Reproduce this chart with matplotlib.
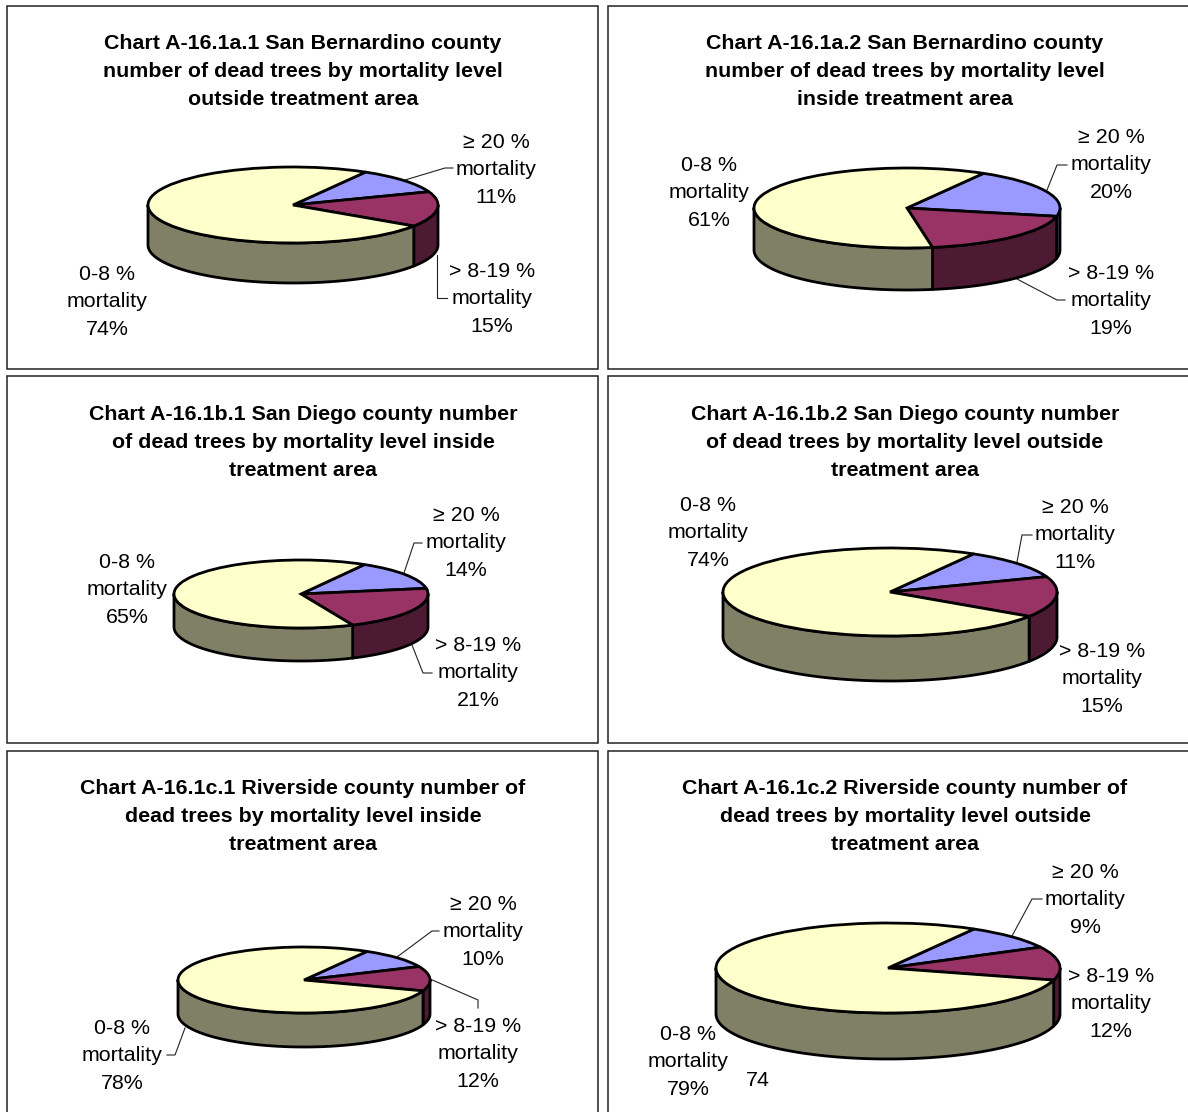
import numpy as np
import matplotlib
matplotlib.use("Agg")
import matplotlib.pyplot as plt
from matplotlib.patches import Polygon, Rectangle

W, H = 1188, 1112
plt.rcParams['font.family'] = ['Liberation Sans', 'DejaVu Sans']

titles = [
    "Chart A-16.1a.1 San Bernardino county\nnumber of dead trees by mortality level\noutside treatment area",
    "Chart A-16.1a.2 San Bernardino county\nnumber of dead trees by mortality level\ninside treatment area",
    "Chart A-16.1b.1 San Diego county number\nof dead trees by mortality level inside\ntreatment area",
    "Chart A-16.1b.2 San Diego county number\nof dead trees by mortality level outside\ntreatment area",
    "Chart A-16.1c.1 Riverside county number of\ndead trees by mortality level inside\ntreatment area",
    "Chart A-16.1c.2 Riverside county number of\ndead trees by mortality level outside\ntreatment area",
]
categories = ["≥ 20 %", "> 8-19 %", "0-8 %"]
high = [11, 20, 14, 11, 10, 9]
mid = [15, 19, 21, 15, 12, 12]
low = [74, 61, 65, 74, 78, 79]

top_colors = ['#9999FF', '#993366', '#FFFFCC']
side_colors = ['#4D4D80', '#4D1A33', '#808066']

# x, y, w, h of the boxes, px
boxes = [(7, 6, 591, 363), (608, 6, 600, 363),
         (7, 376, 591, 367), (608, 376, 600, 367),
         (7, 751, 591, 400), (608, 751, 600, 400)]
title_pos = [(303, 42), (905, 42), (303, 413), (905, 413), (303, 787), (905, 787)]
# cx, cy, rx, ry, depth
pies = [(293, 205, 145, 38, 40), (907, 208, 153, 40, 42),
        (301, 594, 127, 34, 33), (890, 592, 167, 44, 45),
        (304, 980, 126, 33, 34), (888, 968, 172, 45, 46)]
label_pos = [
    [(496, 169), (492, 298), (107, 301)],
    [(1111, 164), (1111, 300), (709, 192)],
    [(466, 542), (478, 672), (127, 589)],
    [(1075, 534), (1102, 678), (708, 532)],
    [(483, 931), (478, 1053), (122, 1055)],
    [(1085, 899), (1111, 1003), (688, 1061)],
]
leaders = [
    [[(405, 180), (445, 168), (453, 168)], [(437, 255), (437, 298), (447, 298)]],
    [[(1047, 190), (1057, 165), (1067, 165)], [(1017, 279), (1057, 300), (1065, 300)]],
    [[(404, 573), (414, 543), (422, 543)], [(412, 645), (423, 673), (432, 673)]],
    [[(1017, 562), (1022, 535), (1032, 535)]],
    [[(397, 957), (432, 931), (439, 931)], [(430, 979), (478, 1000), (478, 1008)],
     [(185, 1028), (175, 1055), (167, 1055)]],
    [[(1012, 936), (1032, 899), (1042, 899)]],
]


def draw_lines(ax, x, y, text, step, **kw):
    rows = text.split("\n")
    for i, row in enumerate(rows):
        ax.text(x, y + i * step, row, ha='center', va='center', **kw)


def draw_pie(fig, values, geom):
    cx, cy, rx, ry, depth = geom
    d = depth / ry
    ax = fig.add_axes([(cx - rx) / W, 1 - (cy + ry + depth) / H,
                       2 * rx / W, (2 * ry + depth) / H])
    # side wall first, only the part of each slice facing the viewer
    start = 60.0
    for v, c in zip(values, side_colors):
        end = start - v * 3.6
        a1, a2 = max(end, -180), min(start, 0)
        if a2 > a1:
            t = np.radians(np.linspace(a1, a2, 80))
            xs = np.cos(t)
            ys = np.sin(t)
            pts = np.r_[np.c_[xs, ys], np.c_[xs[::-1], ys[::-1] - d]]
            ax.add_patch(Polygon(pts, closed=True, fc=c, ec='black', lw=2.0,
                                 joinstyle='round', clip_on=False))
        start = end
    wedges, _ = ax.pie(values, colors=top_colors, startangle=60, counterclock=False,
                       radius=1, wedgeprops=dict(edgecolor='black', linewidth=2.0))
    for w in wedges:
        w.set_clip_on(False)
        w.set_zorder(3)
    ax.set_aspect('auto')
    ax.set_xlim(-1, 1)
    ax.set_ylim(-1 - d, 1)
    ax.axis('off')


fig = plt.figure(figsize=(W / 100, H / 100), dpi=100)
bg = fig.add_axes([0, 0, 1, 1])
bg.set_xlim(0, W)
bg.set_ylim(H, 0)
bg.axis('off')

for i in range(6):
    x, y, w, h = boxes[i]
    bg.add_patch(Rectangle((x, y), w, h, fc='white', ec='#222222', lw=1.1))
    draw_lines(bg, title_pos[i][0], title_pos[i][1] + 1.5, titles[i], 28.2,
               fontsize=15.4, fontweight='bold', color='black')
    values = [high[i], mid[i], low[i]]
    draw_pie(fig, values, pies[i])
    for j in range(3):
        lx, ly = label_pos[i][j]
        draw_lines(bg, lx, ly - 26.5, f"{categories[j]}\nmortality\n{values[j]}%", 27.4,
                   fontsize=15.4, color='black')
    for seg in leaders[i]:
        bg.plot([p[0] for p in seg], [p[1] for p in seg], color='#222222', lw=0.8)

bg.text(758, 1080, "74", ha='center', va='center', fontsize=15.4, color='black')

fig.savefig("out.png", dpi=100)
